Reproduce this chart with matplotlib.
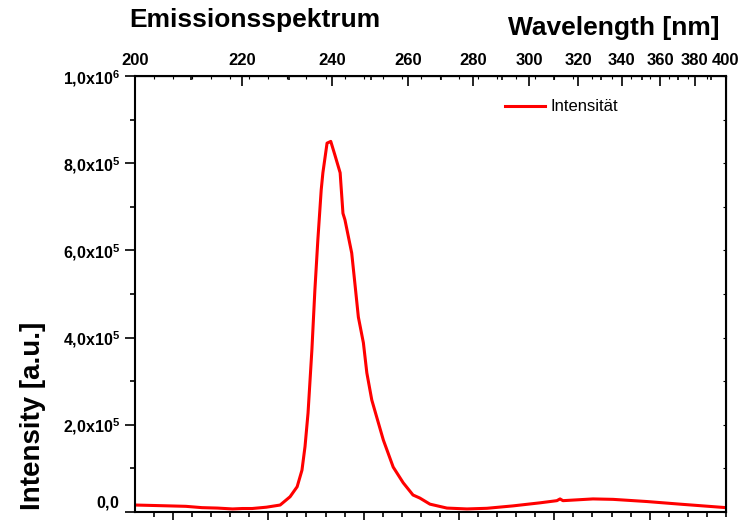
import numpy as np
import matplotlib
matplotlib.use("Agg")
import matplotlib.pyplot as plt
from matplotlib.ticker import MultipleLocator, FuncFormatter, FixedLocator

# Emission spectrum (wavelength in nm, intensity in a.u.)
wavelength = [200, 203, 206, 209, 212, 215, 218, 220, 222, 225, 228, 230.2, 231.8,
              232.9, 233.6, 234.3, 235.2, 235.9, 236.6, 237.4, 237.8, 238.8, 239.7,
              240.7, 242.0, 242.7, 243.2, 244.9, 245.7, 246.6, 247.9, 248.8, 250.1,
              251.4, 253.2, 255.9, 258.7, 261.5, 263.5, 266.5, 271.7, 278.1, 284.8,
              294.0, 304.2, 311.0, 312.3, 313.5, 326.5, 335.8, 352.8, 371.1, 400]
intensity = [1.6e4, 1.5e4, 1.4e4, 1.3e4, 1.0e4, 0.9e4, 0.7e4, 0.8e4, 0.8e4, 1.1e4,
             1.6e4, 3.5e4, 5.8e4, 9.6e4, 1.5e5, 2.27e5, 3.72e5, 5.09e5, 6.24e5,
             7.39e5, 7.78e5, 8.46e5, 8.50e5, 8.19e5, 7.78e5, 6.85e5, 6.70e5, 5.94e5,
             5.25e5, 4.47e5, 3.88e5, 3.19e5, 2.57e5, 2.18e5, 1.65e5, 1.03e5, 6.7e4,
             3.9e4, 3.2e4, 1.8e4, 0.9e4, 0.7e4, 0.85e4, 1.4e4, 2.1e4, 2.6e4, 3.0e4,
             2.6e4, 3.0e4, 2.9e4, 2.4e4, 1.8e4, 1.0e4]
wl_ticks = [200, 220, 240, 260, 280, 300, 320, 340, 360, 380, 400]

HC = 1239.84  # eV*nm

plt.rcParams['font.family'] = 'Liberation Sans'
plt.rcParams['mathtext.fontset'] = 'custom'
plt.rcParams['mathtext.rm'] = 'Liberation Sans'
plt.rcParams['mathtext.bf'] = 'Liberation Sans:bold'


def nm2ev(x):
    x = np.asarray(x, dtype=float)
    with np.errstate(divide='ignore', invalid='ignore'):
        return HC / x


def yfmt(v, pos):
    # Origin style labels like 2,0x10^5
    if v < -1:
        return ''
    if abs(v) < 1:
        return r'$\mathbf{0{,}0}$'
    e = int(np.floor(np.log10(v) + 1e-9))
    m = v / 10 ** e
    return r'$\mathbf{%d{,}%dx10^{%d}}$' % (int(m + 1e-9), int(round(m * 10)) % 10, e)


fig = plt.figure(figsize=(7.47, 5.20), dpi=100)
ax = fig.add_axes([135 / 747, 8 / 520, 591 / 747, 436 / 520])

# Energy axis at the bottom, wavelength axis at the top
energy = nm2ev(wavelength)
ax.plot(energy, intensity, color='#ff0000', lw=2.2, label='Intensität')
ax.set_xlim(HC / 200, HC / 400)
ax.set_ylim(0, 1e6)

ax.xaxis.set_major_locator(MultipleLocator(0.5))
ax.xaxis.set_minor_locator(MultipleLocator(0.1))
ax.yaxis.set_major_locator(MultipleLocator(2e5))
ax.yaxis.set_minor_locator(MultipleLocator(1e5))
ax.yaxis.set_major_formatter(FuncFormatter(yfmt))
ax.tick_params(axis='x', which='both', direction='out', labelbottom=False, width=1.2)
ax.tick_params(axis='x', which='major', length=7)
ax.tick_params(axis='x', which='minor', length=3.5)
ax.tick_params(axis='y', which='both', direction='out', width=1.2, labelsize=11.5, pad=4)
ax.tick_params(axis='y', which='major', length=7)
ax.tick_params(axis='y', which='minor', length=3.5)
for s in ax.spines.values():
    s.set_linewidth(1.5)

# "0,0" sits a little above its tick, like in the original
for lab in ax.get_yticklabels():
    if lab.get_text() == r'$\mathbf{0{,}0}$':
        lab.set_va('bottom')

# Mirrored small ticks on top and right
mirr = ax.secondary_xaxis('top', functions=(lambda x: x, lambda x: x))
mirr.xaxis.set_major_locator(MultipleLocator(0.1))
mirr.tick_params(direction='in', length=2, width=0.8, labeltop=False)
mirr_r = ax.secondary_yaxis('right', functions=(lambda y: y, lambda y: y))
mirr_r.yaxis.set_major_locator(MultipleLocator(1e5))
mirr_r.tick_params(direction='in', length=2, width=0.8, labelright=False)

top = ax.secondary_xaxis('top', functions=(nm2ev, nm2ev))
top.xaxis.set_major_locator(FixedLocator(wl_ticks))
top.xaxis.set_minor_locator(FixedLocator(list(range(210, 400, 20))))
top.tick_params(which='both', direction='in', width=1.2)
top.tick_params(which='major', length=7, labelsize=12, pad=6)
top.tick_params(which='minor', length=3)
for lab in top.get_xticklabels():
    lab.set_fontweight('bold')

ax.legend(loc='center left', bbox_to_anchor=(0.626, 0.929), frameon=False,
          borderpad=0, borderaxespad=0, handlelength=2.4, handletextpad=0.35,
          fontsize=12)

fig.text(255 / 747, 1 - 27 / 520, 'Emissionsspektrum', ha='center', va='baseline',
         fontsize=19, fontweight='bold')
fig.text(614 / 747, 1 - 35 / 520, 'Wavelength [nm]', ha='center', va='baseline',
         fontsize=19, fontweight='bold')
fig.text(33 / 747, 1 - 416 / 520, 'Intensity [a.u.]', ha='center', va='center',
         rotation=90, fontsize=20, fontweight='bold')

fig.savefig('out.png', dpi=100)
plt.close()
